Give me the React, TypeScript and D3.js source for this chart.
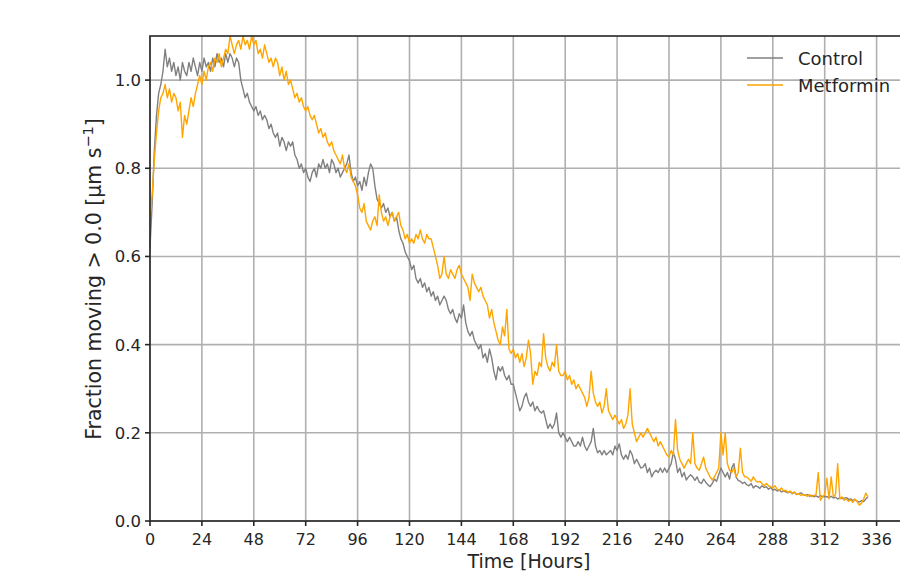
import React from "react";
import * as d3 from "d3";

const STEP_HOURS = 1;

const controlValues: number[] = [
  0.62, 0.72, 0.84, 0.92, 0.97, 0.99, 1.02, 1.07, 1.03, 1.05, 1.02, 1.04,
  1.01, 1.03, 1.0, 1.04, 1.02, 1.01, 1.04, 1.02, 1.05, 1.03, 1.01, 1.04,
  1.02, 1.05, 1.03, 1.04, 1.02, 1.05, 1.03, 1.06, 1.04, 1.05, 1.03, 1.06,
  1.04, 1.06, 1.05, 1.03, 1.05, 1.04, 1.0, 0.98, 0.96, 0.97, 0.95, 0.94,
  0.93, 0.94, 0.92, 0.93, 0.91, 0.92, 0.91, 0.89, 0.9, 0.88, 0.87, 0.88,
  0.85, 0.87, 0.86, 0.84, 0.86, 0.85, 0.86, 0.83, 0.82, 0.8, 0.81, 0.79,
  0.8, 0.78, 0.77, 0.79, 0.8, 0.78, 0.81, 0.8, 0.82, 0.8, 0.81, 0.79,
  0.82, 0.81, 0.79, 0.8, 0.78, 0.79, 0.8, 0.81, 0.83, 0.79, 0.77, 0.78,
  0.76, 0.77, 0.75, 0.78, 0.76, 0.79, 0.81, 0.8, 0.76, 0.73, 0.72, 0.71,
  0.72, 0.7, 0.71, 0.69, 0.7, 0.68, 0.69, 0.66, 0.64, 0.63, 0.61, 0.6,
  0.59, 0.57, 0.58, 0.55, 0.54, 0.55, 0.53, 0.54, 0.52, 0.53, 0.51, 0.52,
  0.5, 0.51, 0.49, 0.5, 0.51, 0.5, 0.48, 0.47, 0.48, 0.46, 0.45, 0.47,
  0.46, 0.49, 0.45, 0.43, 0.42, 0.43, 0.41, 0.4, 0.39, 0.4, 0.37, 0.38,
  0.36, 0.39, 0.37, 0.34, 0.32, 0.35, 0.34, 0.35, 0.33, 0.32, 0.33, 0.31,
  0.31, 0.29, 0.27, 0.25, 0.26, 0.28, 0.29, 0.27, 0.26, 0.27, 0.25, 0.26,
  0.25, 0.245, 0.25, 0.23, 0.21, 0.22, 0.21, 0.22, 0.245, 0.2, 0.19, 0.2,
  0.19, 0.18, 0.19, 0.18, 0.17, 0.17, 0.18, 0.17, 0.19, 0.17, 0.16, 0.17,
  0.18, 0.21, 0.17, 0.155, 0.16, 0.15, 0.16, 0.15, 0.155, 0.16, 0.15, 0.17,
  0.16, 0.175, 0.15, 0.14, 0.15, 0.14, 0.16, 0.15, 0.13, 0.14, 0.13, 0.12,
  0.122, 0.13, 0.11, 0.12, 0.1, 0.11, 0.115, 0.11, 0.12, 0.11, 0.12, 0.11,
  0.12, 0.13, 0.155, 0.14, 0.11, 0.12, 0.1, 0.11, 0.093, 0.1, 0.105, 0.1,
  0.092, 0.1, 0.088, 0.085, 0.095, 0.088, 0.082, 0.078, 0.085, 0.095, 0.09, 0.105,
  0.12, 0.11, 0.1, 0.11, 0.095, 0.12, 0.13, 0.1, 0.092, 0.09, 0.085, 0.088,
  0.082, 0.08, 0.085, 0.075, 0.08, 0.078, 0.074, 0.08, 0.076, 0.078, 0.072, 0.076,
  0.07, 0.072, 0.068, 0.07, 0.066, 0.068, 0.066, 0.064, 0.067, 0.062, 0.065, 0.06,
  0.062, 0.064, 0.06, 0.058, 0.06, 0.056, 0.058, 0.055, 0.057, 0.054, 0.058, 0.055,
  0.056, 0.055, 0.053, 0.056, 0.052, 0.054, 0.05, 0.053, 0.051, 0.052, 0.053, 0.049,
  0.05, 0.047, 0.048, 0.045, 0.043, 0.046, 0.044, 0.05, 0.055,
];

const metforminValues: number[] = [
  0.69, 0.74, 0.82, 0.88, 0.93, 0.96, 0.97, 0.99, 0.96, 0.98, 0.95, 0.97,
  0.96, 0.93, 0.95, 0.87, 0.92, 0.9, 0.93, 0.96, 0.94, 0.97, 0.99, 1.01,
  0.99, 1.02, 1.0, 1.03, 1.04, 1.02, 1.05, 1.04, 1.06, 1.03, 1.05, 1.07,
  1.06, 1.1, 1.08, 1.06, 1.08, 1.09, 1.07, 1.1, 1.08, 1.09, 1.07, 1.1,
  1.08, 1.09, 1.06, 1.07, 1.05, 1.08, 1.06, 1.04, 1.05, 1.03, 1.05, 1.04,
  1.01, 1.03, 1.0, 1.02, 0.99, 1.0, 0.98, 0.96, 0.97, 0.95, 0.96, 0.94,
  0.93, 0.94, 0.92, 0.91, 0.92, 0.9, 0.88, 0.89, 0.87, 0.88, 0.86, 0.85,
  0.86, 0.84, 0.83, 0.82, 0.81, 0.83, 0.8, 0.79, 0.81, 0.78, 0.77, 0.76,
  0.74, 0.71, 0.7, 0.72, 0.68, 0.67, 0.66, 0.68, 0.69, 0.67, 0.74, 0.7,
  0.68, 0.69, 0.67, 0.69, 0.7, 0.68, 0.69, 0.7, 0.67, 0.66, 0.64, 0.65,
  0.63, 0.64, 0.63, 0.65, 0.64, 0.66, 0.64, 0.63, 0.65, 0.64, 0.64, 0.62,
  0.6, 0.58, 0.55, 0.56, 0.6, 0.56, 0.55, 0.57, 0.56, 0.55, 0.57, 0.58,
  0.56, 0.55, 0.54, 0.53, 0.5, 0.56, 0.54, 0.53, 0.52, 0.53, 0.51, 0.5,
  0.49, 0.46, 0.48, 0.45, 0.43, 0.41, 0.4, 0.44, 0.42, 0.48, 0.39, 0.38,
  0.39, 0.37, 0.38, 0.36, 0.38, 0.35, 0.37, 0.41, 0.38, 0.31, 0.34, 0.33,
  0.36, 0.35, 0.425, 0.37, 0.35, 0.34, 0.36, 0.35, 0.4, 0.34, 0.33, 0.33,
  0.34, 0.32, 0.33, 0.31, 0.32, 0.3, 0.31, 0.3, 0.29, 0.28, 0.26, 0.28,
  0.34, 0.29, 0.27, 0.26, 0.27, 0.245, 0.26, 0.3, 0.25, 0.24, 0.23, 0.24,
  0.23, 0.22, 0.23, 0.21, 0.22, 0.24, 0.3, 0.22, 0.2, 0.18, 0.19, 0.2,
  0.19, 0.2, 0.21, 0.2, 0.19, 0.18, 0.19, 0.17, 0.18, 0.17, 0.16, 0.15,
  0.145, 0.16, 0.15, 0.23, 0.16, 0.14, 0.13, 0.12, 0.13, 0.14, 0.13, 0.2,
  0.13, 0.12, 0.115, 0.13, 0.145, 0.12, 0.11, 0.1, 0.093, 0.1, 0.11, 0.12,
  0.2, 0.15, 0.2, 0.13, 0.115, 0.11, 0.12, 0.1, 0.11, 0.165, 0.11, 0.1,
  0.1, 0.095, 0.09, 0.1, 0.092, 0.088, 0.09, 0.085, 0.08, 0.085, 0.08, 0.078,
  0.075, 0.08, 0.072, 0.07, 0.075, 0.068, 0.07, 0.065, 0.068, 0.063, 0.066, 0.06,
  0.062, 0.058, 0.06, 0.059, 0.056, 0.06, 0.055, 0.058, 0.06, 0.11, 0.047, 0.055,
  0.06, 0.097, 0.05, 0.1, 0.055, 0.06, 0.13, 0.05, 0.055, 0.047, 0.05, 0.045,
  0.048, 0.042, 0.05, 0.044, 0.036, 0.04, 0.05, 0.063, 0.055,
];

const xTicks = [0, 24, 48, 72, 96, 120, 144, 168, 192, 216, 240, 264, 288, 312, 336];
const yTicks = [0.0, 0.2, 0.4, 0.6, 0.8, 1.0];
const seriesNames = ["Control", "Metformin"];
const seriesColors = ["#808080", "#ffa500"];
const xLabel = "Time [Hours]";

const W = 900;
const H = 573;
const margin = { left: 150, top: 36, bottom: 52 };
const X_MAX = 350;

export default function App() {
  const plotBottom = H - margin.bottom;
  const x = d3.scaleLinear().domain([0, 336]).range([margin.left, 876.6]);
  const y = d3.scaleLinear().domain([0, 1.1]).range([plotBottom, margin.top]);
  const xRight = x(X_MAX);

  const mk = (vals: number[]) =>
    d3
      .line<number>()
      .x((_, i) => x(i * STEP_HOURS))
      .y((v) => y(v))(vals) || "";

  const series = [controlValues, metforminValues];
  const font = "DejaVu Sans, sans-serif";

  return (
    <svg
      width={W}
      height={H}
      style={{ position: "absolute", left: 0, top: 0, background: "#fff" }}
      fontFamily={font}
    >
      <rect x={0} y={0} width={W} height={H} fill="#fff" />
      {xTicks.map((t) => (
        <line key={"gx" + t} x1={x(t)} x2={x(t)} y1={y(1.1)} y2={plotBottom} stroke="#b0b0b0" strokeWidth={1.6} />
      ))}
      {yTicks.map((t) => (
        <line key={"gy" + t} x1={margin.left} x2={xRight} y1={y(t)} y2={y(t)} stroke="#b0b0b0" strokeWidth={1.6} />
      ))}
      {series.map((s, i) => (
        <path key={i} d={mk(s)} fill="none" stroke={seriesColors[i]} strokeWidth={1.4} strokeLinejoin="round" />
      ))}
      <rect
        x={margin.left}
        y={margin.top}
        width={xRight - margin.left}
        height={plotBottom - margin.top}
        fill="none"
        stroke="#262626"
        strokeWidth={1.6}
      />
      {xTicks.map((t) => (
        <g key={"xt" + t}>
          <line x1={x(t)} x2={x(t)} y1={plotBottom} y2={plotBottom + 5} stroke="#262626" strokeWidth={1.6} />
          <text x={x(t)} y={545} textAnchor="middle" fontSize={16} fill="#262626">
            {t}
          </text>
        </g>
      ))}
      {yTicks.map((t) => (
        <g key={"yt" + t}>
          <line x1={margin.left - 5} x2={margin.left} y1={y(t)} y2={y(t)} stroke="#262626" strokeWidth={1.6} />
          <text x={margin.left - 9} y={y(t) + 6} textAnchor="end" fontSize={16.5} fill="#262626">
            {t.toFixed(1)}
          </text>
        </g>
      ))}
      <text x={529} y={568} textAnchor="middle" fontSize={19} fill="#262626">
        {xLabel}
      </text>
      <text transform="translate(101,279) rotate(-90)" textAnchor="middle" fontSize={20.5} fill="#262626">
        {"Fraction moving > 0.0 [µm s"}
        <tspan dy={-8} fontSize={14.5}>{"\u22121"}</tspan>
        <tspan dy={8}>{"]"}</tspan>
      </text>
      {seriesNames.map((n, i) => (
        <g key={n}>
          <line x1={747} x2={783} y1={58 + i * 27} y2={58 + i * 27} stroke={seriesColors[i]} strokeWidth={1.4} />
          <text x={798} y={64.5 + i * 27} fontSize={18} fill="#262626">
            {n}
          </text>
        </g>
      ))}
    </svg>
  );
}
